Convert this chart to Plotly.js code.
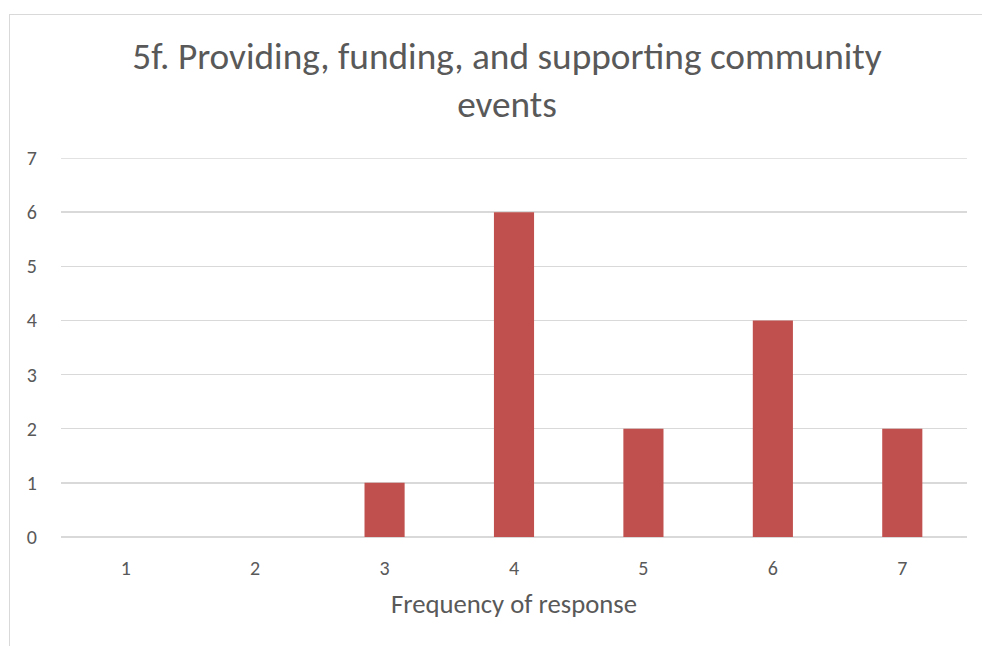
<!DOCTYPE html>
<html>
<head>
<meta charset="utf-8">
<script src="https://cdn.plot.ly/plotly-3.0.1.min.js"></script>
<style>
html,body{margin:0;padding:0;background:#fff;}
#wrap{position:relative;width:982px;height:646px;overflow:hidden;}
#chart{width:982px;height:646px;}
#frame{position:absolute;left:9px;top:14px;width:1100px;height:1000px;border-left:1px solid #d9d9d9;border-top:1px solid #d9d9d9;pointer-events:none;}
</style>
</head>
<body>
<div id="wrap"><div id="chart"></div><div id="frame"></div></div>
<script>
const categories = ['1','2','3','4','5','6','7'];
const counts = [0, 0, 1, 6, 2, 4, 2];
const yTicks = [0,1,2,3,4,5,6,7];
const yMax = 7;
const titleText = '5f. Providing, funding, and supporting community<br>events';
const xTitle = 'Frequency of response';

const fontFam = 'Calibri, Carlito, Lato, "Open Sans", sans-serif';
const textColor = '#595959';
const gridColor = '#d9d9d9';

Plotly.newPlot('chart', [{
  type: 'bar',
  x: categories,
  y: counts,
  marker: {color: '#C0504D'},
  hoverinfo: 'x+y'
}], {
  width: 982, height: 646,
  margin: {l: 61, r: 15, t: 158, b: 109},
  paper_bgcolor: '#fff', plot_bgcolor: '#fff',
  bargap: 0.69,
  showlegend: false,
  font: {family: fontFam, color: textColor},
  title: {
    text: titleText,
    font: {family: fontFam, size: 37.3, color: textColor},
    x: 507/982, xanchor: 'center',
    y: 1 - 69/646, yanchor: 'middle', yref: 'container'
  },
  xaxis: {
    type: 'category',
    showgrid: false, zeroline: false, showline: false,
    ticks: '',
    ticklabelstandoff: 17,
    tickfont: {size: 20, color: textColor},
    title: {text: xTitle, font: {size: 26.7, color: textColor}, standoff: 15}
  },
  yaxis: {
    range: [0, yMax],
    tickvals: yTicks,
    showgrid: true, gridcolor: gridColor, gridwidth: 1.3,
    zeroline: true, zerolinecolor: gridColor, zerolinewidth: 1.3,
    showline: false, ticks: '',
    ticklabelstandoff: 23,
    tickfont: {size: 20, color: textColor}
  },
  shapes: [{
    type: 'line', xref: 'paper', yref: 'y',
    x0: 0, x1: 1, y0: yMax, y1: yMax,
    line: {color: gridColor, width: 1.3}, layer: 'below'
  }]
}, {displayModeBar: false, staticPlot: true});
</script>
</body>
</html>
